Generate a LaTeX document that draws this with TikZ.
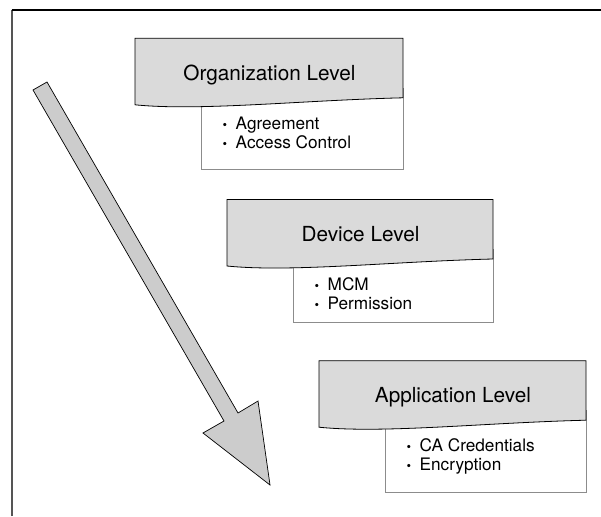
\documentclass[tikz,border=0pt]{standalone}
\usepackage{fontspec}
\setmainfont{TeX Gyre Heros}
\definecolor{hdrfill}{RGB}{218,218,218}
\definecolor{arrowfill}{RGB}{204,204,204}
\definecolor{boxline}{RGB}{140,140,140}
\definecolor{leftline}{RGB}{85,85,85}

% One level: name, left, top, header width, item box depth, title, two items
\newcommand\levelbox[8]{%
  \path[itembox] ({#2+66},{#3+50}) rectangle ({#2+#4},{#3+#5});
  \path[hdr] (#2,#3) -- ({#2+#4},#3) -- ({#2+#4},{#3+59.5})
     .. controls ({#2+0.62*#4},{#3+62}) and ({#2+0.24*#4},{#3+73}) .. (#2,{#3+66.5}) -- cycle;
  \node[titletext] (#1-title) at ({#2+#4/2+0.5},{#3+42}) {#6};
  \node[bullet] (#1-b1) at ({#2+90},{#3+91}) {•};
  \node[item] (#1-i1) at ({#2+100.5},{#3+91}) {#7};
  \node[bullet] (#1-b2) at ({#2+90},{#3+110}) {•};
  \node[item] (#1-i2) at ({#2+100.5},{#3+110}) {#8};
}

\begin{document}
\begin{tikzpicture}[x=1pt,y=-1pt,
  hdr/.style={draw=black,line width=0.8pt,fill=hdrfill},
  itembox/.style={draw=boxline,line width=0.9pt,fill=white},
  titletext/.style={anchor=base,inner sep=0pt,font=\fontsize{20.75}{24}\selectfont},
  item/.style={anchor=base west,inner sep=0pt,font=\fontsize{17.2}{20}\selectfont},
  bullet/.style={anchor=base,inner sep=0pt,font=\fontsize{13}{16}\selectfont},
  bigarrow/.style={draw=black,line width=0.7pt,fill=arrowfill,line join=miter}]
\useasboundingbox (0,0) rectangle (601,516);

% frame lines along the top and left edges
\draw[leftline,line width=1.5pt] (12,516) -- (12,10.5);
\draw[black,line width=1.3pt] (11.5,10) -- (601,10);

% downward arrow
\coordinate (tailA) at (33,90);
\coordinate (tailB) at (47,82);
\coordinate (neckB) at (238,413);
\coordinate (wingB) at (258,401);
\coordinate (tip) at (270,485);
\coordinate (wingA) at (203,433);
\coordinate (neckA) at (224,421);
\path[bigarrow] (tailA) -- (tailB) -- (neckB) -- (wingB) -- (tip) -- (wingA) -- (neckA) -- cycle;

\levelbox{org}{135}{38.3}{268}{131}{Organization Level}{Agreement}{Access Control}
\levelbox{dev}{227}{199.5}{266}{123}{Device Level}{MCM}{Permission}
\levelbox{app}{319}{360.7}{267}{131.5}{Application Level}{CA Credentials}{Encryption}
\end{tikzpicture}
\end{document}
